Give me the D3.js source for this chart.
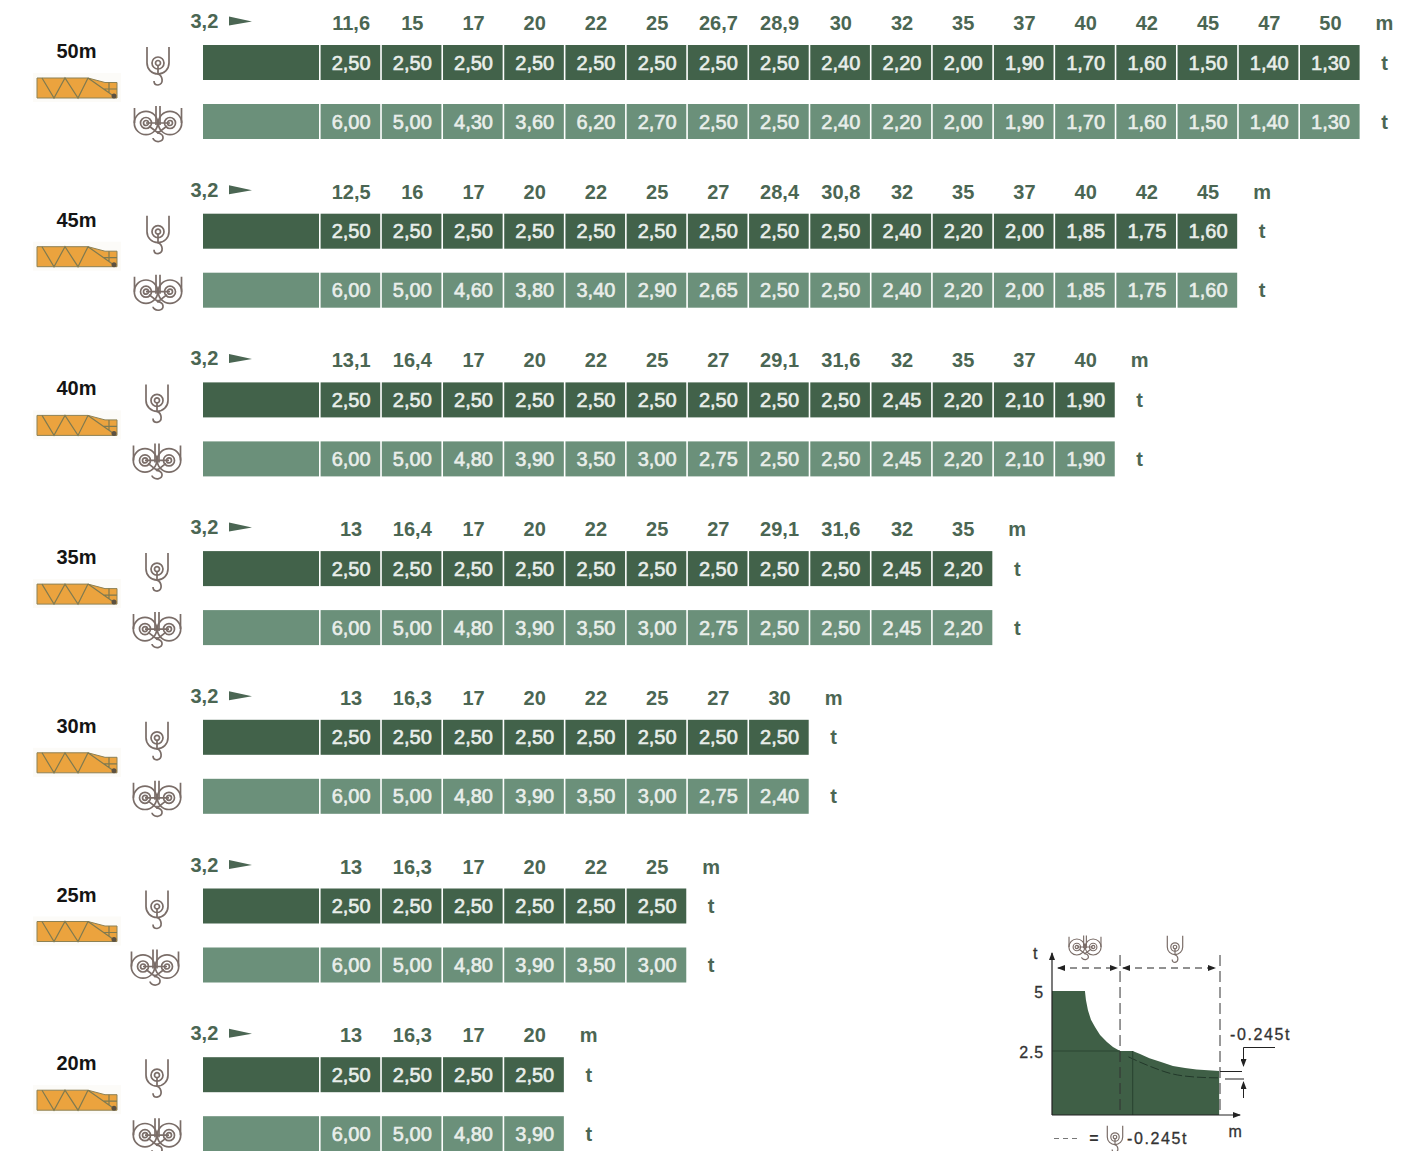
<!DOCTYPE html>
<html>
<head>
<meta charset="utf-8">
<script src="https://cdn.jsdelivr.net/npm/d3@7"></script>
<style>
  html, body { margin: 0; background: #fff; }
  svg { display: block; }
  text { font-family: "Liberation Sans", Arial, sans-serif; }
</style>
</head>
<body>
<div id="chart"></div>
<script>
// boom lengths
const booms = ["50m", "45m", "40m", "35m", "30m", "25m", "20m"];

// radius labels per boom
const radii50 = ["11,6","15","17","20","22","25","26,7","28,9","30","32","35","37","40","42","45","47","50"];
const radii45 = ["12,5","16","17","20","22","25","27","28,4","30,8","32","35","37","40","42","45"];
const radii40 = ["13,1","16,4","17","20","22","25","27","29,1","31,6","32","35","37","40"];
const radii35 = ["13","16,4","17","20","22","25","27","29,1","31,6","32","35"];
const radii30 = ["13","16,3","17","20","22","25","27","30"];
const radii25 = ["13","16,3","17","20","22","25"];
const radii20 = ["13","16,3","17","20"];

// single reeving loads (t)
const single50 = ["2,50","2,50","2,50","2,50","2,50","2,50","2,50","2,50","2,40","2,20","2,00","1,90","1,70","1,60","1,50","1,40","1,30"];
const single45 = ["2,50","2,50","2,50","2,50","2,50","2,50","2,50","2,50","2,50","2,40","2,20","2,00","1,85","1,75","1,60"];
const single40 = ["2,50","2,50","2,50","2,50","2,50","2,50","2,50","2,50","2,50","2,45","2,20","2,10","1,90"];
const single35 = ["2,50","2,50","2,50","2,50","2,50","2,50","2,50","2,50","2,50","2,45","2,20"];
const single30 = ["2,50","2,50","2,50","2,50","2,50","2,50","2,50","2,50"];
const single25 = ["2,50","2,50","2,50","2,50","2,50","2,50"];
const single20 = ["2,50","2,50","2,50","2,50"];

// double reeving loads (t)
const double50 = ["6,00","5,00","4,30","3,60","6,20","2,70","2,50","2,50","2,40","2,20","2,00","1,90","1,70","1,60","1,50","1,40","1,30"];
const double45 = ["6,00","5,00","4,60","3,80","3,40","2,90","2,65","2,50","2,50","2,40","2,20","2,00","1,85","1,75","1,60"];
const double40 = ["6,00","5,00","4,80","3,90","3,50","3,00","2,75","2,50","2,50","2,45","2,20","2,10","1,90"];
const double35 = ["6,00","5,00","4,80","3,90","3,50","3,00","2,75","2,50","2,50","2,45","2,20"];
const double30 = ["6,00","5,00","4,80","3,90","3,50","3,00","2,75","2,40"];
const double25 = ["6,00","5,00","4,80","3,90","3,50","3,00"];
const double20 = ["6,00","5,00","4,80","3,90"];

const allRadii = [radii50, radii45, radii40, radii35, radii30, radii25, radii20];
const allSingle = [single50, single45, single40, single35, single30, single25, single20];
const allDouble = [double50, double45, double40, double35, double30, double25, double20];

// small load diagram (m in % of jib, t)
const curveM = [0, 19.6, 20.2, 21.4, 23.2, 25.6, 28.6, 32.7, 36.3, 40.5, 48, 52.4, 58, 64.9, 72, 79.2, 86, 99.5];
const curveT = [5, 5, 4.63, 4.2, 3.8, 3.5, 3.17, 2.88, 2.67, 2.5, 2.5, 2.38, 2.22, 2.07, 1.91, 1.84, 1.78, 1.72];
const dashM = [45.5, 56.5, 72, 86, 99.5];
const dashT = [2.27, 1.95, 1.6, 1.48, 1.45];
const diagramTicks = [2.5, 5];

const width = 1424, height = 1151;
const dark = "#42624a", light = "#6b907a", labelColor = "#4b6653", iconColor = "#7a6d68";

const svg = d3.select("#chart").append("svg")
    .attr("width", width)
    .attr("height", height)
    .attr("viewBox", `0 0 ${width} ${height}`);

const defs = svg.append("defs");

defs.append("marker").attr("id", "tip").attr("viewBox", "0 0 8 6")
    .attr("refX", 7).attr("refY", 3).attr("markerWidth", 8).attr("markerHeight", 6)
    .attr("markerUnits", "userSpaceOnUse").attr("orient", "auto-start-reverse")
    .append("path").attr("d", "M0,0L8,3L0,6Z").attr("fill", "#222");

/**********************/
/******* icons        */
/**********************/

function hookSingle(g) {
    const i = g.append("g").attr("fill", "none").attr("stroke", iconColor).attr("stroke-width", 1.7);
    i.append("path").attr("d", "M-11,-16 V0 A11,11 0 0 0 11,0 V-16");
    i.append("circle").attr("r", 6);
    i.append("circle").attr("r", 2.5);
    i.append("path").attr("d", "M0,2 V11 C5,13 6,21 0,22 C-3,22 -4,20 -4,18");
}

function hookDouble(g) {
    const i = g.append("g").attr("fill", "none").attr("stroke", iconColor).attr("stroke-width", 1.7);
    i.append("path").attr("d", "M-23.5,-15 V0 M23.5,-15 V0");
    i.append("path").attr("d", "M-2,-17 V2 M2,-17 V2");
    [-12, 12].forEach(cx => {
        i.append("circle").attr("cx", cx).attr("r", 11.7);
        i.append("circle").attr("cx", cx).attr("r", 5.5);
        i.append("circle").attr("cx", cx).attr("r", 2.5);
    });
    i.append("path").attr("d", "M-12,0 H12 M-9,3 L0,10 L9,3");
    i.append("path").attr("d", "M0,8 V10 C6,11 7,17 1,18.5 C-3,19 -5,16 -5,15");
}

function truss(g) {
    g.append("rect").attr("x", -4).attr("y", -5).attr("width", 88).attr("height", 29).attr("fill", "#fcfbf8");
    g.append("path").attr("d", "M0,0 H51 L68,4.5 H80 V20 H0 Z")
        .attr("fill", "#eba33e").attr("stroke", "#8d8154").attr("stroke-width", 1);
    g.append("path").attr("d", "M5,0 L17,20 L28,0 L41,20 L51,0 M51,0 L78,19 M72,4.5 V15 M66,11 H80")
        .attr("fill", "none").attr("stroke", "#7f7a50").attr("stroke-width", 1.2);
    g.append("circle").attr("cx", 77).attr("cy", 18).attr("r", 2.5).attr("fill", "#5c5140");
}

/**********************/
/******* table        */
/**********************/

const groupY = d3.scaleBand()
    .domain(booms)
    .range([0, 168.7 * booms.length]);

const colX = d3.scaleBand()
    .domain(d3.range(17))
    .range([320.5, 1361.1]);

const rowY = d3.scaleBand()
    .domain(["single", "double"])
    .range([45, 163]);

const rowHeight = 35;

booms.forEach((boom, b) => {
    const radii = allRadii[b];
    const g = svg.append("g").attr("transform", `translate(0, ${groupY(boom)})`);

    g.append("text").attr("x", 76.5).attr("y", 58)
        .attr("text-anchor", "middle").attr("font-size", 20).attr("font-weight", 700)
        .attr("fill", "#141414").text(boom);

    truss(g.append("g").attr("transform", "translate(37, 78)"));
    hookSingle(g.append("g").attr("transform", `translate(${b < 2 ? 158 : 157}, 63)`));
    hookDouble(g.append("g").attr("transform", `translate(${b < 2 ? 158 : b === 5 ? 155 : 157}, 123)`));

    // radius header as an axis with only its labels left
    const axis = g.append("g")
        .attr("transform", "translate(0, 30)")
        .call(d3.axisTop(colX)
            .tickValues(d3.range(radii.length))
            .tickSize(0)
            .tickPadding(0)
            .tickFormat(i => radii[i]));
    axis.select(".domain").remove();
    axis.selectAll("text")
        .attr("y", 0).attr("dy", 0)
        .style("font-family", '"Liberation Sans", Arial, sans-serif')
        .style("font-size", "20px")
        .style("font-weight", 700)
        .style("fill", labelColor);

    g.append("text").attr("x", 190.5).attr("y", 28)
        .attr("font-size", 20).attr("font-weight", 700).attr("fill", labelColor).text("3,2");
    g.append("path").attr("d", "M229,16.5 L252,21.5 L229,25.5 Z").attr("fill", labelColor);

    const unitX = colX(radii.length - 1) + colX.bandwidth() / 2 + 54;
    g.append("text").attr("x", unitX).attr("y", 30).attr("text-anchor", "middle")
        .attr("font-size", 20).attr("font-weight", 700).attr("fill", labelColor).text("m");

    [["single", allSingle[b], dark], ["double", allDouble[b], light]].forEach(([row, values, color]) => {
        const top = rowY(row);
        g.append("rect").attr("x", 203).attr("y", top)
            .attr("width", 116).attr("height", rowHeight).attr("fill", color);

        g.selectAll(`rect.${row}`)
            .data(values)
            .enter()
            .append("rect")
            .attr("class", row)
            .attr("x", (d, i) => colX(i) + 0.1)
            .attr("y", top)
            .attr("width", colX.bandwidth() - 1.6)
            .attr("height", rowHeight)
            .attr("fill", color);

        g.selectAll(`text.${row}`)
            .data(values)
            .enter()
            .append("text")
            .attr("class", row)
            .attr("x", (d, i) => colX(i) + colX.bandwidth() / 2)
            .attr("y", top + 24.5)
            .attr("text-anchor", "middle")
            .attr("font-size", 20)
            .attr("fill", "#e9eeea")
            .attr("stroke", "#e9eeea")
            .attr("stroke-width", 0.6)
            .text(d => d);

        g.append("text").attr("x", unitX).attr("y", top + 24.5).attr("text-anchor", "middle")
            .attr("font-size", 20).attr("font-weight", 700).attr("fill", labelColor).text("t");
    });
});

/**********************/
/******* load diagram */
/**********************/

const dx = d3.scaleLinear().domain([0, 100]).range([1052, 1220]);
const dy = d3.scaleLinear().domain([0, 2.5, 5]).range([1115, 1051, 991]);

const diagram = svg.append("g");

const area = d3.area()
    .x((d, i) => dx(curveM[i]))
    .y0(dy(0))
    .y1((d, i) => dy(d));

diagram.append("path").attr("d", area(curveT)).attr("fill", "#3f5f46");

const dashLine = d3.line()
    .x((d, i) => dx(dashM[i]))
    .y(d => dy(d))
    .curve(d3.curveMonotoneX);

diagram.append("path").attr("d", dashLine(dashT))
    .attr("fill", "none").attr("stroke", "#22382a").attr("stroke-width", 1).attr("stroke-dasharray", "9 3");

diagram.append("line").attr("x1", dx(0)).attr("x2", dx(40.5)).attr("y1", dy(2.5)).attr("y2", dy(2.5))
    .attr("stroke", "#2c4632").attr("stroke-width", 1);
diagram.append("line").attr("x1", dx(48)).attr("x2", dx(48)).attr("y1", dy(2.5)).attr("y2", dy(0))
    .attr("stroke", "#2c4632").attr("stroke-width", 1.2);

// axes
const yAxis = diagram.append("g").attr("transform", `translate(${dx(0)}, 0)`)
    .call(d3.axisLeft(dy).tickValues(diagramTicks).tickSize(0).tickPadding(8).tickFormat(d3.format("")));
yAxis.select(".domain").remove();
yAxis.selectAll("text")
    .style("font-family", '"Liberation Sans", Arial, sans-serif')
    .style("font-size", "16px").style("fill", "#333").style("letter-spacing", "0.8px")
    .style("stroke", "#333").style("stroke-width", "0.3px")
    .attr("dy", "0.4em");

diagram.append("line").attr("x1", dx(0)).attr("x2", dx(0)).attr("y1", dy(0)).attr("y2", 953)
    .attr("stroke", "#222").attr("stroke-width", 1.2).attr("marker-end", "url(#tip)");
diagram.append("line").attr("x1", dx(0)).attr("x2", 1240).attr("y1", dy(0)).attr("y2", dy(0))
    .attr("stroke", "#222").attr("stroke-width", 1.2).attr("marker-end", "url(#tip)");

// dashed guides
[[dx(40.5)], [dx(100)]].forEach(([x]) => {
    diagram.append("line").attr("x1", x).attr("x2", x).attr("y1", 955).attr("y2", dy(0))
        .attr("stroke", "#333").attr("stroke-width", 1).attr("stroke-dasharray", "11 5");
});
[[1058, 1117], [1123, 1215]].forEach(([a, b]) => {
    diagram.append("line").attr("x1", a).attr("x2", b).attr("y1", 968).attr("y2", 968)
        .attr("stroke", "#222").attr("stroke-width", 1).attr("stroke-dasharray", "7 5")
        .attr("marker-start", "url(#tip)").attr("marker-end", "url(#tip)");
});

// -0.245t dimension
diagram.append("path").attr("d", "M1220,1071.5 H1242 M1225,1079 H1244").attr("stroke", "#222").attr("fill", "none");
diagram.append("path").attr("d", "M1275,1047.5 H1243.5 V1066").attr("stroke", "#222").attr("fill", "none").attr("marker-end", "url(#tip)");
diagram.append("line").attr("x1", 1243.5).attr("x2", 1243.5).attr("y1", 1098).attr("y2", 1082)
    .attr("stroke", "#222").attr("marker-end", "url(#tip)");

function smallText(x, y, s, anchor) {
    diagram.append("text").attr("x", x).attr("y", y).attr("text-anchor", anchor || "start")
        .attr("font-size", 16).attr("fill", "#333").attr("stroke", "#333").attr("stroke-width", 0.3)
        .attr("letter-spacing", 1.6).text(s);
}
smallText(1036, 959, "t", "middle");
smallText(1230, 1040, "-0.245t");
smallText(1127, 1144, "-0.245t");
smallText(1236, 1137, "m", "middle");
diagram.append("path").attr("d", "M1054,1138.5 H1080").attr("stroke", "#777").attr("stroke-dasharray", "5 4");
diagram.append("text").attr("x", 1094).attr("y", 1144).attr("text-anchor", "middle")
    .attr("font-size", 16).attr("font-weight", 700).attr("fill", "#333").text("=");

hookSingle(diagram.append("g").attr("transform", "translate(1175, 947) scale(0.7)"));
hookDouble(diagram.append("g").attr("transform", "translate(1085, 947) scale(0.68)"));
hookSingle(diagram.append("g").attr("transform", "translate(1115, 1137) scale(0.7)"));
</script>
</body>
</html>
